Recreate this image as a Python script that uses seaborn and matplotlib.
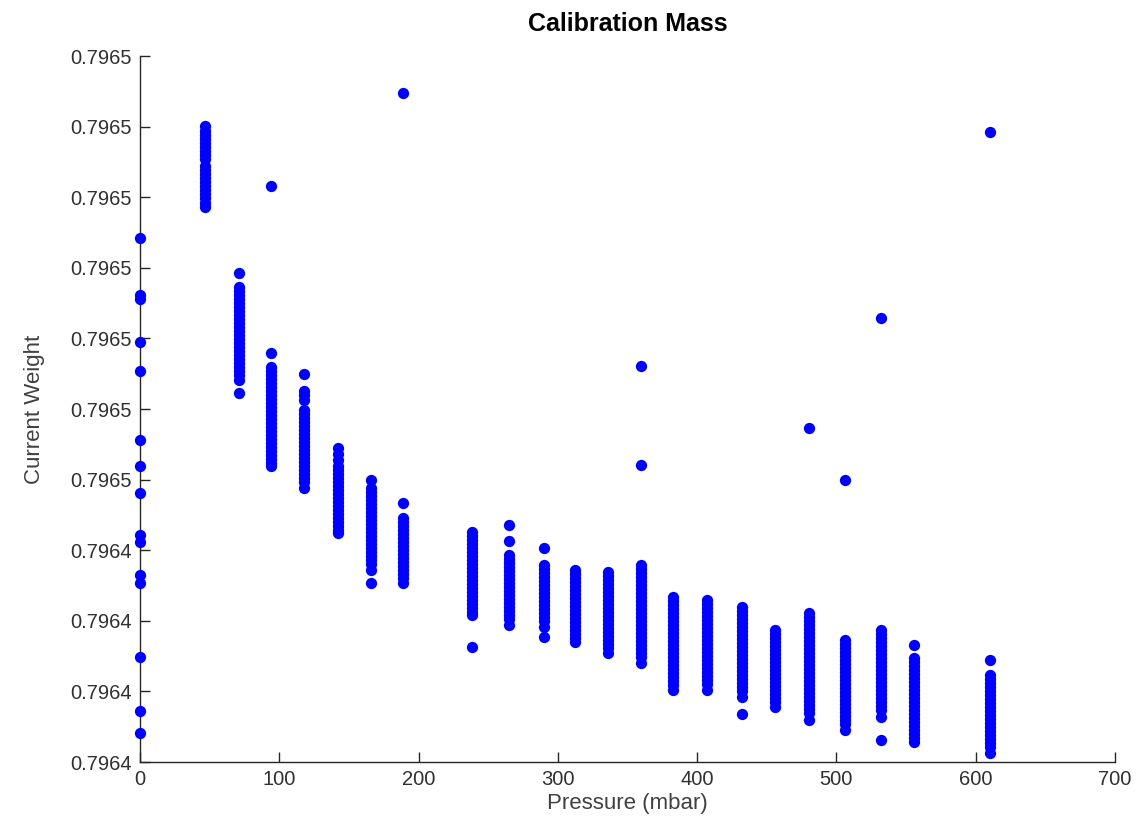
import matplotlib
matplotlib.use("Agg")
import matplotlib.pyplot as plt
import seaborn as sns
import pandas as pd

# ---- data (pressure in mbar, weight) ----
w_000 = [0.7964774, 0.7964717, 0.7964713, 0.7964670, 0.7964641, 0.7964572, 0.7964546,
         0.7964519, 0.7964477, 0.7964470, 0.7964437, 0.7964429, 0.7964355, 0.7964301, 0.7964279]
w_047 = [0.7964886, 0.7964881, 0.7964877, 0.7964873, 0.7964869, 0.7964865, 0.7964861,
         0.7964857, 0.7964853, 0.7964846, 0.7964842, 0.7964838, 0.7964834, 0.7964830,
         0.7964826, 0.7964822, 0.7964818, 0.7964814, 0.7964809, 0.7964805]
w_071 = [0.7964739, 0.7964725, 0.7964721, 0.7964717, 0.7964713, 0.7964709, 0.7964705,
         0.7964701, 0.7964697, 0.7964693, 0.7964689, 0.7964685, 0.7964681, 0.7964677,
         0.7964673, 0.7964669, 0.7964665, 0.7964661, 0.7964657, 0.7964653, 0.7964649,
         0.7964645, 0.7964641, 0.7964637, 0.7964632, 0.7964619]
w_094 = [0.7964826, 0.7964659, 0.7964645, 0.7964641, 0.7964637, 0.7964633, 0.7964629,
         0.7964625, 0.7964621, 0.7964617, 0.7964613, 0.7964609, 0.7964605, 0.7964601,
         0.7964597, 0.7964593, 0.7964589, 0.7964585, 0.7964581, 0.7964577, 0.7964573,
         0.7964569, 0.7964565, 0.7964561, 0.7964557, 0.7964553, 0.7964549, 0.7964546]
w_118 = [0.7964638, 0.7964621, 0.7964617, 0.7964612, 0.7964602, 0.7964598, 0.7964594,
         0.7964590, 0.7964586, 0.7964582, 0.7964578, 0.7964574, 0.7964570, 0.7964566,
         0.7964562, 0.7964558, 0.7964554, 0.7964550, 0.7964546, 0.7964542, 0.7964538,
         0.7964534, 0.7964530, 0.7964524]
w_142 = [0.7964564, 0.7964558, 0.7964552, 0.7964546, 0.7964542, 0.7964538, 0.7964534,
         0.7964530, 0.7964526, 0.7964522, 0.7964518, 0.7964514, 0.7964510, 0.7964506,
         0.7964502, 0.7964498, 0.7964494, 0.7964490, 0.7964486, 0.7964482, 0.7964479]
w_166 = [0.7964532, 0.7964524, 0.7964520, 0.7964516, 0.7964512, 0.7964508, 0.7964504,
         0.7964500, 0.7964496, 0.7964492, 0.7964488, 0.7964484, 0.7964480, 0.7964476,
         0.7964472, 0.7964468, 0.7964464, 0.7964460, 0.7964456, 0.7964452, 0.7964448,
         0.7964442, 0.7964429]
w_189 = [0.7964919, 0.7964509, 0.7964494, 0.7964490, 0.7964486, 0.7964482, 0.7964478,
         0.7964474, 0.7964470, 0.7964466, 0.7964462, 0.7964458, 0.7964454, 0.7964450,
         0.7964446, 0.7964442, 0.7964438, 0.7964434, 0.7964429]
w_238 = [0.7964480, 0.7964476, 0.7964472, 0.7964468, 0.7964464, 0.7964460, 0.7964456,
         0.7964452, 0.7964448, 0.7964444, 0.7964440, 0.7964436, 0.7964432, 0.7964428,
         0.7964424, 0.7964420, 0.7964416, 0.7964412, 0.7964408, 0.7964404, 0.7964400,
         0.7964397, 0.7964365]
w_265 = [0.7964487, 0.7964471, 0.7964457, 0.7964453, 0.7964449, 0.7964445, 0.7964441,
         0.7964437, 0.7964433, 0.7964429, 0.7964425, 0.7964421, 0.7964417, 0.7964413,
         0.7964409, 0.7964405, 0.7964401, 0.7964397, 0.7964393, 0.7964387]
w_290 = [0.7964464, 0.7964447, 0.7964443, 0.7964439, 0.7964435, 0.7964431, 0.7964427,
         0.7964423, 0.7964419, 0.7964415, 0.7964411, 0.7964407, 0.7964403, 0.7964399,
         0.7964395, 0.7964391, 0.7964385, 0.7964375]
w_312 = [0.7964442, 0.7964438, 0.7964434, 0.7964430, 0.7964426, 0.7964422, 0.7964418,
         0.7964414, 0.7964410, 0.7964406, 0.7964402, 0.7964398, 0.7964394, 0.7964390,
         0.7964386, 0.7964382, 0.7964378, 0.7964374, 0.7964370]
w_336 = [0.7964440, 0.7964436, 0.7964432, 0.7964428, 0.7964424, 0.7964420, 0.7964416,
         0.7964412, 0.7964408, 0.7964404, 0.7964400, 0.7964396, 0.7964392, 0.7964388,
         0.7964384, 0.7964380, 0.7964376, 0.7964372, 0.7964368, 0.7964364, 0.7964359]
w_360 = [0.7964646, 0.7964547, 0.7964447, 0.7964443, 0.7964439, 0.7964435, 0.7964431,
         0.7964427, 0.7964423, 0.7964419, 0.7964415, 0.7964411, 0.7964407, 0.7964403,
         0.7964399, 0.7964395, 0.7964391, 0.7964387, 0.7964383, 0.7964379, 0.7964375,
         0.7964371, 0.7964367, 0.7964363, 0.7964359, 0.7964355, 0.7964349]
w_383 = [0.7964415, 0.7964411, 0.7964407, 0.7964403, 0.7964399, 0.7964395, 0.7964391,
         0.7964387, 0.7964383, 0.7964379, 0.7964375, 0.7964371, 0.7964367, 0.7964363,
         0.7964359, 0.7964355, 0.7964351, 0.7964347, 0.7964343, 0.7964339, 0.7964335,
         0.7964331, 0.7964327, 0.7964322]
w_407 = [0.7964412, 0.7964408, 0.7964404, 0.7964400, 0.7964396, 0.7964392, 0.7964388,
         0.7964384, 0.7964380, 0.7964376, 0.7964372, 0.7964368, 0.7964364, 0.7964360,
         0.7964356, 0.7964352, 0.7964348, 0.7964344, 0.7964340, 0.7964336, 0.7964332,
         0.7964328, 0.7964322]
w_432 = [0.7964405, 0.7964401, 0.7964397, 0.7964393, 0.7964389, 0.7964385, 0.7964381,
         0.7964377, 0.7964373, 0.7964369, 0.7964365, 0.7964361, 0.7964357, 0.7964353,
         0.7964349, 0.7964345, 0.7964341, 0.7964337, 0.7964333, 0.7964329, 0.7964325,
         0.7964321, 0.7964315, 0.7964298]
w_456 = [0.7964382, 0.7964378, 0.7964374, 0.7964370, 0.7964366, 0.7964362, 0.7964358,
         0.7964354, 0.7964350, 0.7964346, 0.7964342, 0.7964338, 0.7964334, 0.7964330,
         0.7964326, 0.7964322, 0.7964318, 0.7964314, 0.7964310, 0.7964305]
w_480 = [0.7964584, 0.7964399, 0.7964395, 0.7964391, 0.7964387, 0.7964383, 0.7964379,
         0.7964375, 0.7964371, 0.7964367, 0.7964363, 0.7964359, 0.7964355, 0.7964351,
         0.7964347, 0.7964343, 0.7964339, 0.7964335, 0.7964331, 0.7964327, 0.7964323,
         0.7964319, 0.7964315, 0.7964311, 0.7964307, 0.7964303, 0.7964299, 0.7964292]
w_506 = [0.7964532, 0.7964372, 0.7964368, 0.7964364, 0.7964360, 0.7964356, 0.7964352,
         0.7964348, 0.7964344, 0.7964340, 0.7964336, 0.7964332, 0.7964328, 0.7964324,
         0.7964320, 0.7964316, 0.7964312, 0.7964308, 0.7964304, 0.7964300, 0.7964296,
         0.7964292, 0.7964288, 0.7964282]
w_532 = [0.7964694, 0.7964382, 0.7964378, 0.7964374, 0.7964370, 0.7964366, 0.7964362,
         0.7964358, 0.7964354, 0.7964350, 0.7964346, 0.7964342, 0.7964338, 0.7964334,
         0.7964330, 0.7964326, 0.7964322, 0.7964318, 0.7964314, 0.7964310, 0.7964306,
         0.7964302, 0.7964295, 0.7964272]
w_556 = [0.7964367, 0.7964354, 0.7964350, 0.7964346, 0.7964342, 0.7964338, 0.7964334,
         0.7964330, 0.7964326, 0.7964322, 0.7964318, 0.7964314, 0.7964310, 0.7964306,
         0.7964302, 0.7964298, 0.7964294, 0.7964290, 0.7964286, 0.7964282, 0.7964278,
         0.7964274, 0.7964270]
w_610 = [0.7964880, 0.7964352, 0.7964337, 0.7964333, 0.7964329, 0.7964325, 0.7964321,
         0.7964317, 0.7964313, 0.7964309, 0.7964305, 0.7964301, 0.7964297, 0.7964293,
         0.7964289, 0.7964285, 0.7964281, 0.7964277, 0.7964273, 0.7964269, 0.7964265,
         0.7964259]

pressures = [0, 47, 71, 94, 118, 142, 166, 189, 238, 265, 290, 312, 336, 360,
             383, 407, 432, 456, 480, 506, 532, 556, 610]
weights = [w_000, w_047, w_071, w_094, w_118, w_142, w_166, w_189, w_238, w_265,
           w_290, w_312, w_336, w_360, w_383, w_407, w_432, w_456, w_480, w_506,
           w_532, w_556, w_610]

x_ticks = [0, 100, 200, 300, 400, 500, 600, 700]
y_ticks = [0.79642500, 0.79643206, 0.79643912, 0.79644618, 0.79645324, 0.79646030,
           0.79646736, 0.79647442, 0.79648148, 0.79648854, 0.79649560]
y_ticklabels = ["0.7964", "0.7964", "0.7964", "0.7964", "0.7965", "0.7965",
                "0.7965", "0.7965", "0.7965", "0.7965", "0.7965"]

title = "Calibration Mass"
x_label = "Pressure (mbar)"
y_label = "Current Weight"

rows = []
for p, ws in zip(pressures, weights):
    for w in ws:
        rows.append({"Pressure": p, "Weight": w})
df = pd.DataFrame(rows)

# ---- plot ----
sns.set_style("ticks")
plt.rcParams["font.family"] = ["Liberation Sans", "DejaVu Sans"]

fig = plt.figure(figsize=(11.39, 8.33), dpi=100)
ax = fig.add_axes([140 / 1139, 71 / 833, 975 / 1139, 706 / 833])

sns.scatterplot(data=df, x="Pressure", y="Weight", color=(0, 0, 1), s=66,
                linewidth=0, ax=ax, clip_on=False, zorder=3)

ax.set_xlim(0, 700)
ax.set_ylim(y_ticks[0], y_ticks[-1])
ax.set_xticks(x_ticks)
ax.set_xticklabels([str(t) for t in x_ticks])
ax.set_yticks(y_ticks)
ax.set_yticklabels(y_ticklabels)

sns.despine(ax=ax, top=True, right=True)
for side in ("left", "bottom"):
    ax.spines[side].set_color("#262626")
    ax.spines[side].set_linewidth(1.0)
ax.tick_params(direction="in", length=7, width=1.0, color="#262626",
               labelsize=14.5, labelcolor="#303030", pad=6)

ax.set_title(title, fontsize=18, fontweight="bold", color="black", pad=18)
ax.set_xlabel(x_label, fontsize=16, color="#404040", labelpad=3)
ax.set_ylabel(y_label, fontsize=16, color="#404040", labelpad=18)

fig.savefig("out.png", dpi=100, facecolor="white")
